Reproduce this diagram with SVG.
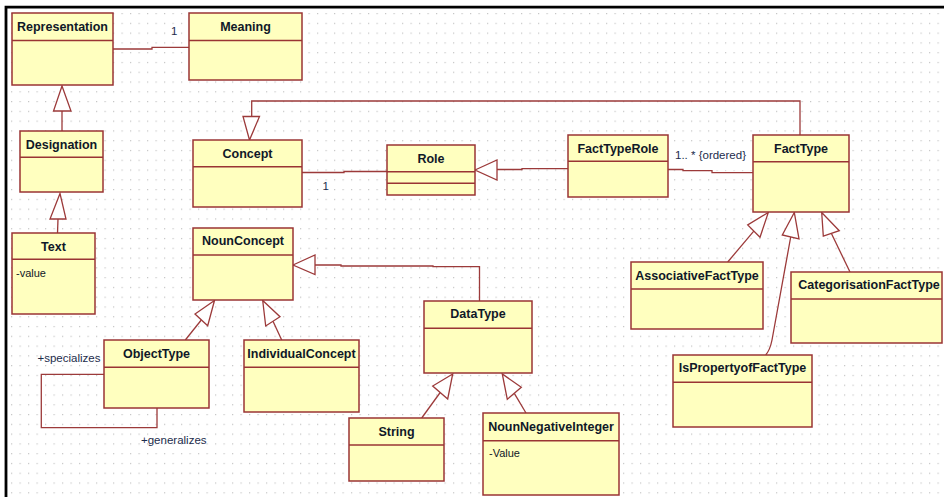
<svg xmlns="http://www.w3.org/2000/svg" width="944" height="497" viewBox="0 0 944 497">
<style>
.box{fill:#FFFFBF;stroke:#9A3434;stroke-width:1.5}
.sep{stroke:#9A3434;stroke-width:1.5;fill:none}
.ln{fill:none;stroke:#9C3A3A;stroke-width:1.3}
.ah{fill:#FFFFFF;stroke:#9C3A3A;stroke-width:1.3;stroke-linejoin:miter}
.nm{font-family:"Liberation Sans",Arial,sans-serif;font-size:12.5px;font-weight:bold;fill:#101828;text-anchor:middle}
.at{font-family:"Liberation Sans",Arial,sans-serif;font-size:11px;fill:#101828}
.lb{font-family:"Liberation Sans",Arial,sans-serif;font-size:11.5px;fill:#1C2C4C}
</style>
<defs>
<pattern id="grid" patternUnits="userSpaceOnUse" x="11" y="13" width="8.5" height="9.78">
<rect x="0" y="0" width="1.2" height="1.2" fill="#C4C4C4"/>
</pattern>
</defs>
<rect x="0" y="0" width="944" height="497" fill="#FFFFFF"/>
<rect x="7" y="8" width="937" height="489" fill="url(#grid)"/>
<path d="M6,497 V7.2 H944" fill="none" stroke="#000000" stroke-width="2.8"/>

<g id="connectors">
<rect x="669" y="144" width="83" height="26" fill="#FFFFFF"/>
<path class="ln" d="M113,49 H152 V47.3 H189"/>
<path class="ln" d="M62,111 V131"/>
<path class="ln" d="M58,219 L57.5,233"/>
<path class="ln" d="M800,135 V101 H251.7 V116.5"/>
<path class="ln" d="M302,172.5 H344 V171.5 H387"/>
<path class="ln" d="M497,169.5 H522 V168.7 H568"/>
<path class="ln" d="M668,169.5 H683 V170.7 H712 V172.7 H753"/>
<path class="ln" d="M315,265 H341 V266 H433 V266.7 H479.5 V301"/>
<path class="ln" d="M201.3,320 L185.3,340"/>
<path class="ln" d="M273,321.3 L281.7,340"/>
<path class="ln" d="M104,374.3 H41.3 V427.7 H157 V408"/>
<path class="ln" d="M440.2,392.5 L421.7,418"/>
<path class="ln" d="M514.3,393.3 L526,413"/>
<path class="ln" d="M753.8,231.2 L727.7,262"/>
<path class="ln" d="M790.7,237 L772,340 Q770,350 765.7,355"/>
<path class="ln" d="M831.3,233.3 L850,272"/>

<polygon class="ah" points="62,86 53.5,111 71,111"/>
<polygon class="ah" points="60,193.5 50,219 66,219"/>
<polygon class="ah" points="249.5,140 243,116.5 259.5,116.5"/>
<polygon class="ah" points="475,170 497,160 497,180"/>
<polygon class="ah" points="293,265 315,255 315,274.5"/>
<polygon class="ah" points="214.5,300.5 195,314 207.7,325.7"/>
<polygon class="ah" points="262.7,300.5 265.7,326 280,316.7"/>
<polygon class="ah" points="452.7,374 432.7,386 447.7,399"/>
<polygon class="ah" points="502.3,374 507.3,399.3 521.3,387.3"/>
<polygon class="ah" points="768.3,212.5 747.7,225 760,237.3"/>
<polygon class="ah" points="794.3,212.5 782.3,235 799,239"/>
<polygon class="ah" points="821.7,212.5 823.3,236 839.3,230.7"/>

<text class="lb" x="171" y="35">1</text>
<text class="lb" x="322.5" y="190">1</text>
<text class="lb" x="675" y="158.5">1.. * {ordered}</text>
<text class="lb" x="37.5" y="361.5">+specializes</text>
<text class="lb" x="141" y="444">+generalizes</text>
</g>

<g id="Representation">
<rect class="box" x="12" y="13" width="101" height="72"/>
<line class="sep" x1="12" y1="40.5" x2="113" y2="40.5"/>
<text class="nm" x="62.5" y="30.5">Representation</text>
</g>
<g id="Meaning">
<rect class="box" x="189" y="13" width="113" height="67"/>
<line class="sep" x1="189" y1="40.5" x2="302" y2="40.5"/>
<text class="nm" x="245.5" y="30.5">Meaning</text>
</g>
<g id="Designation">
<rect class="box" x="20" y="131" width="83" height="61"/>
<line class="sep" x1="20" y1="157.3" x2="103" y2="157.3"/>
<text class="nm" x="61.5" y="148.5">Designation</text>
</g>
<g id="Text">
<rect class="box" x="12" y="233" width="83" height="81"/>
<line class="sep" x1="12" y1="259.3" x2="95" y2="259.3"/>
<text class="nm" x="53.5" y="251">Text</text>
<text class="at" x="16" y="277">-value</text>
</g>
<g id="Concept">
<rect class="box" x="193" y="140" width="109" height="67"/>
<line class="sep" x1="193" y1="166.7" x2="302" y2="166.7"/>
<text class="nm" x="247.5" y="157.5">Concept</text>
</g>
<g id="Role">
<rect class="box" x="387" y="145" width="88" height="50"/>
<line class="sep" x1="387" y1="171.7" x2="475" y2="171.7"/>
<line class="sep" x1="387" y1="183.3" x2="475" y2="183.3"/>
<text class="nm" x="431" y="162.5">Role</text>
</g>
<g id="FactTypeRole">
<rect class="box" x="568" y="135" width="100" height="62"/>
<line class="sep" x1="568" y1="161.3" x2="668" y2="161.3"/>
<text class="nm" x="618" y="153">FactTypeRole</text>
</g>
<g id="FactType">
<rect class="box" x="753" y="135" width="96" height="77"/>
<line class="sep" x1="753" y1="161.7" x2="849" y2="161.7"/>
<text class="nm" x="801" y="153">FactType</text>
</g>
<g id="NounConcept">
<rect class="box" x="193" y="228" width="100" height="72"/>
<line class="sep" x1="193" y1="255" x2="293" y2="255"/>
<text class="nm" x="243" y="245">NounConcept</text>
</g>
<g id="DataType">
<rect class="box" x="424" y="301" width="108" height="72"/>
<line class="sep" x1="424" y1="328.3" x2="532" y2="328.3"/>
<text class="nm" x="478" y="318.3">DataType</text>
</g>
<g id="ObjectType">
<rect class="box" x="104" y="340" width="105" height="68"/>
<line class="sep" x1="104" y1="367.3" x2="209" y2="367.3"/>
<text class="nm" x="156.5" y="358">ObjectType</text>
</g>
<g id="IndividualConcept">
<rect class="box" x="244" y="340" width="115" height="72"/>
<line class="sep" x1="244" y1="367.3" x2="359" y2="367.3"/>
<text class="nm" x="301.5" y="358">IndividualConcept</text>
</g>
<g id="String">
<rect class="box" x="349" y="418" width="95" height="63"/>
<line class="sep" x1="349" y1="445" x2="444" y2="445"/>
<text class="nm" x="396.5" y="436">String</text>
</g>
<g id="NounNegativeInteger">
<rect class="box" x="483" y="413" width="136" height="82"/>
<line class="sep" x1="483" y1="440.7" x2="619" y2="440.7"/>
<text class="nm" x="551" y="430.5">NounNegativeInteger</text>
<text class="at" x="489" y="457">-Value</text>
</g>
<g id="AssociativeFactType">
<rect class="box" x="631" y="262" width="132" height="67"/>
<line class="sep" x1="631" y1="289" x2="763" y2="289"/>
<text class="nm" x="697" y="280">AssociativeFactType</text>
</g>
<g id="CategorisationFactType">
<rect class="box" x="791" y="272" width="151" height="71"/>
<line class="sep" x1="791" y1="299" x2="942" y2="299"/>
<text class="nm" x="869" y="289.3">CategorisationFactType</text>
</g>
<g id="IsPropertyofFactType">
<rect class="box" x="673" y="355" width="139" height="72"/>
<line class="sep" x1="673" y1="382.3" x2="812" y2="382.3"/>
<text class="nm" x="742.5" y="371.7">IsPropertyofFactType</text>
</g>
</svg>
